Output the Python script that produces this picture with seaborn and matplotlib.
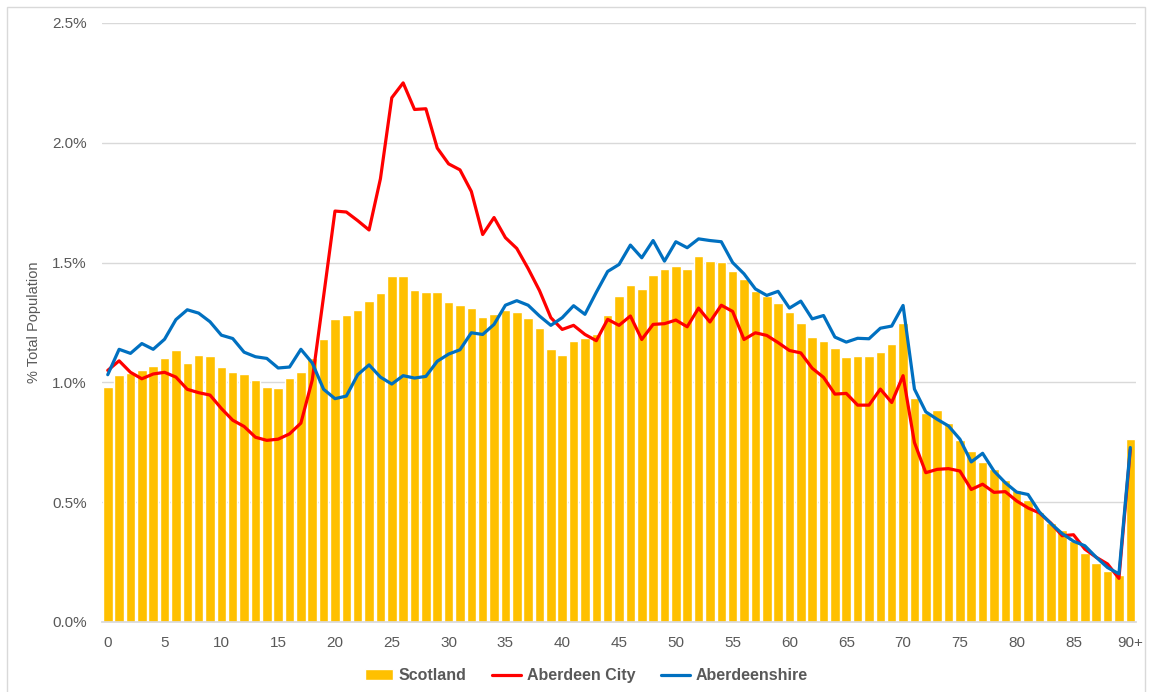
import numpy as np
import pandas as pd
import matplotlib
matplotlib.use("Agg")
import matplotlib.pyplot as plt
from matplotlib.ticker import PercentFormatter
from matplotlib.patches import Rectangle
import seaborn as sns

# ---- data (% of total population by single year of age) ----
ages = [str(a) for a in range(90)] + ["90+"]

scotland = [0.98, 1.03, 1.04, 1.05, 1.07, 1.10, 1.135, 1.08, 1.115, 1.11,
            1.065, 1.045, 1.035, 1.01, 0.98, 0.976, 1.02, 1.045, 1.10, 1.18,
            1.263, 1.282, 1.30, 1.341, 1.375, 1.446, 1.446, 1.387, 1.377, 1.377,
            1.336, 1.322, 1.312, 1.272, 1.284, 1.304, 1.293, 1.267, 1.225, 1.138,
            1.115, 1.174, 1.184, 1.203, 1.28, 1.359, 1.408, 1.39, 1.449, 1.472,
            1.487, 1.473, 1.528, 1.506, 1.501, 1.465, 1.432, 1.383, 1.362, 1.33,
            1.293, 1.246, 1.191, 1.173, 1.145, 1.105, 1.109, 1.109, 1.128, 1.159,
            1.246, 0.933, 0.874, 0.883, 0.832, 0.76, 0.714, 0.669, 0.637, 0.591,
            0.552, 0.511, 0.46, 0.411, 0.384, 0.337, 0.288, 0.246, 0.212, 0.197,
            0.764]

aberdeen_city = [1.05, 1.09, 1.042, 1.015, 1.035, 1.042, 1.022, 0.971, 0.957, 0.947,
                 0.891, 0.842, 0.816, 0.771, 0.758, 0.763, 0.785, 0.83, 1.01, 1.36,
                 1.715, 1.711, 1.675, 1.636, 1.85, 2.188, 2.25, 2.139, 2.142, 1.978,
                 1.912, 1.887, 1.797, 1.617, 1.688, 1.604, 1.559, 1.475, 1.383, 1.27,
                 1.221, 1.238, 1.20, 1.174, 1.263, 1.238, 1.277, 1.179, 1.242, 1.245,
                 1.26, 1.232, 1.31, 1.252, 1.322, 1.296, 1.179, 1.207, 1.196, 1.166,
                 1.133, 1.123, 1.059, 1.021, 0.951, 0.954, 0.905, 0.905, 0.972, 0.916,
                 1.028, 0.749, 0.623, 0.637, 0.64, 0.63, 0.553, 0.575, 0.541, 0.544,
                 0.505, 0.476, 0.455, 0.413, 0.36, 0.364, 0.304, 0.27, 0.242, 0.182,
                 0.72]

aberdeenshire = [1.032, 1.138, 1.121, 1.162, 1.138, 1.18, 1.262, 1.303, 1.289, 1.253,
                 1.197, 1.183, 1.126, 1.107, 1.10, 1.06, 1.064, 1.138, 1.081, 0.971,
                 0.932, 0.943, 1.032, 1.073, 1.022, 0.993, 1.028, 1.018, 1.025, 1.088,
                 1.118, 1.136, 1.207, 1.20, 1.242, 1.322, 1.341, 1.322, 1.277, 1.238,
                 1.27, 1.32, 1.284, 1.376, 1.463, 1.492, 1.573, 1.52, 1.592, 1.506,
                 1.587, 1.562, 1.599, 1.592, 1.587, 1.50, 1.453, 1.39, 1.363, 1.38,
                 1.31, 1.339, 1.265, 1.279, 1.189, 1.168, 1.184, 1.182, 1.226, 1.235,
                 1.321, 0.972, 0.877, 0.846, 0.818, 0.763, 0.668, 0.704, 0.63, 0.581,
                 0.542, 0.532, 0.459, 0.411, 0.369, 0.337, 0.318, 0.27, 0.227, 0.201,
                 0.728]

df = pd.DataFrame({"age": ages, "pos": np.arange(len(ages)),
                   "Scotland": scotland,
                   "Aberdeen City": aberdeen_city,
                   "Aberdeenshire": aberdeenshire})

# ---- style ----
sns.set_theme(style="white")
plt.rcParams['font.family'] = ['Liberation Sans', 'DejaVu Sans']
grey_txt = "#595959"

fig = plt.figure(figsize=(11.52, 6.92), dpi=100)
ax = fig.add_axes([0.0886, 0.1012, 0.8975, 0.8656])

sns.barplot(data=df, x="age", y="Scotland", order=ages, color="#FFC000",
            saturation=1, width=0.84, ax=ax, label="Scotland", zorder=2)
sns.lineplot(data=df, x="pos", y="Aberdeen City", color="#FF0000", lw=2.3,
             ax=ax, label="Aberdeen City", zorder=3)
sns.lineplot(data=df, x="pos", y="Aberdeenshire", color="#0070C0", lw=2.3,
             ax=ax, label="Aberdeenshire", zorder=4)

ax.set_xlim(-0.5, len(ages) - 0.5)
ax.set_ylim(0, 2.5)
ax.set_yticks(np.arange(0, 2.51, 0.5))
ax.yaxis.set_major_formatter(PercentFormatter(xmax=100, decimals=1))
ax.set_xticks(range(0, 91, 5))
ax.set_xticklabels([ages[i] for i in range(0, 91, 5)])
ax.yaxis.grid(True, color="#D9D9D9", lw=1, zorder=0)
ax.set_axisbelow(True)
for s in ["top", "right", "left"]:
    ax.spines[s].set_visible(False)
ax.spines["bottom"].set_color("#D9D9D9")
ax.tick_params(axis="both", length=0, colors=grey_txt, labelsize=11)
ax.tick_params(axis="x", pad=10)
ax.tick_params(axis="y", pad=11)
ax.set_xlabel("")
ax.set_ylabel("% Total Population", color=grey_txt, fontsize=10.5, labelpad=8)

# legend: Scotland first
h, l = ax.get_legend_handles_labels()
order = [l.index("Scotland"), l.index("Aberdeen City"), l.index("Aberdeenshire")]
leg = ax.legend([h[i] for i in order], [l[i] for i in order],
                loc="center", bbox_to_anchor=(0.468, -0.09), ncol=3,
                frameon=False, handlelength=1.8, handletextpad=0.35,
                columnspacing=1.6, prop={"weight": "bold", "size": 11.5})
for t in leg.get_texts():
    t.set_color(grey_txt)

fig.patches.append(Rectangle((0.006, -0.01), 0.988, 1.0, transform=fig.transFigure,
                             fill=False, edgecolor="#D9D9D9", lw=1))

fig.savefig("out.png", dpi=100)
